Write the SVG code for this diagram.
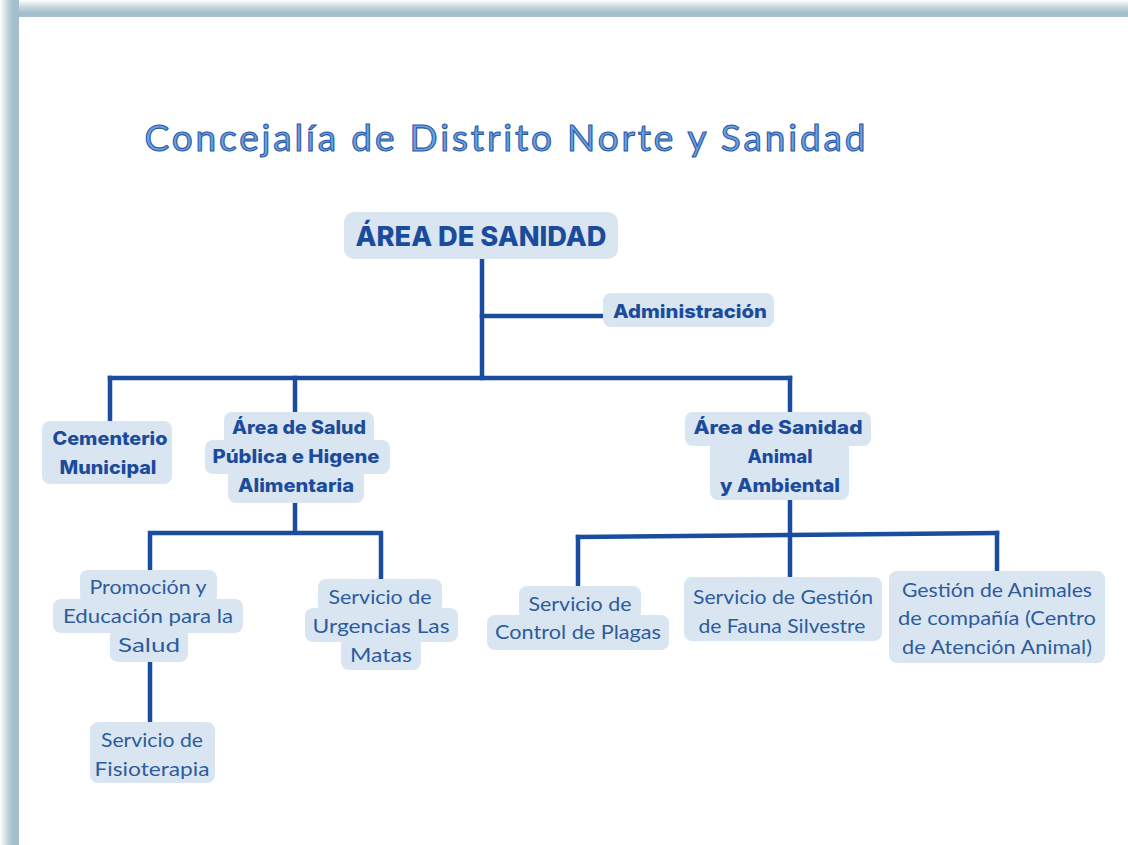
<svg xmlns="http://www.w3.org/2000/svg" width="1128" height="845" viewBox="0 0 1128 845">
<defs>
<linearGradient id="gl" x1="0" y1="0" x2="1" y2="0">
<stop offset="0" stop-color="#ffffff"/>
<stop offset="0.35" stop-color="#c9d9e0"/>
<stop offset="0.7" stop-color="#a4bfcb"/>
<stop offset="1" stop-color="#a4bfcb"/>
</linearGradient>
<linearGradient id="gt" x1="0" y1="0" x2="0" y2="1">
<stop offset="0" stop-color="#ffffff"/>
<stop offset="0.35" stop-color="#cfdde3"/>
<stop offset="0.75" stop-color="#a4bfcb"/>
<stop offset="1" stop-color="#a4bfcb"/>
</linearGradient>
<style>
.bx{fill:#dae5f2}
.b{font-family:Inter,"Open Sans","Liberation Sans",sans-serif;font-weight:800;fill:#1b4c9b;text-anchor:middle;font-size:18.5px}
.big{font-size:27.5px}
.r{font-family:Lato,"Liberation Sans",sans-serif;font-weight:400;fill:#2d5c9d;text-anchor:middle;font-size:20px}
.ln{stroke:#1a4d9f;stroke-width:4.5;fill:none;stroke-linecap:square}
</style>
</defs>
<rect width="1128" height="845" fill="#ffffff"/>
<rect x="0" y="0" width="1128" height="17" fill="url(#gt)"/>
<rect x="0" y="0" width="19" height="845" fill="url(#gl)"/>
<rect x="19" y="17" width="1109" height="828" fill="#ffffff"/>

<text x="505" y="151" font-family="Lato,'Liberation Sans',sans-serif" font-size="37" fill="#6ba2e6" stroke="#2a58a3" stroke-width="1.1" text-anchor="middle" textLength="721" lengthAdjust="spacing">Concejalía de Distrito Norte y Sanidad</text>

<g id="connectors">
<path class="ln" d="M482 258 V378"/>
<path class="ln" d="M482 316 H603"/>
<path class="ln" d="M110 378 H790"/>
<path class="ln" d="M110 378 V421"/>
<path class="ln" d="M295 378 V412"/>
<path class="ln" d="M790 378 V412"/>
<path class="ln" d="M295 503 V533 M150 533 H381 M150 533 V570 M381 533 V579"/>
<path class="ln" d="M150 662 V722"/>
<path class="ln" d="M790 500 V577"/>
<path class="ln" d="M578 537 L997 533"/>
<path class="ln" d="M578 537 V586"/>
<path class="ln" d="M997 533 V571"/>
</g>

<g id="n-area-sanidad">
<rect class="bx" x="344" y="212" width="274" height="47" rx="10"/>
<text class="b big" x="481" y="246" textLength="251" lengthAdjust="spacingAndGlyphs">ÁREA DE SANIDAD</text>
</g>
<g id="n-administracion">
<rect class="bx" x="603" y="293" width="171" height="34" rx="8"/>
<text class="b" x="690" y="318" textLength="154" lengthAdjust="spacingAndGlyphs">Administración</text>
</g>
<g id="n-cementerio">
<rect class="bx" x="42" y="421" width="130" height="63" rx="8"/>
<text class="b" x="110" y="445" textLength="115" lengthAdjust="spacingAndGlyphs">Cementerio</text>
<text class="b" x="108" y="474" textLength="97" lengthAdjust="spacingAndGlyphs">Municipal</text>
</g>
<g id="n-salud-publica">
<rect class="bx" x="224" y="412" width="150" height="34" rx="8"/>
<rect class="bx" x="205" y="440" width="185" height="34" rx="8"/>
<rect class="bx" x="228" y="468" width="136" height="35" rx="8"/>
<text class="b" x="299" y="434" textLength="134" lengthAdjust="spacingAndGlyphs">Área de Salud</text>
<text class="b" x="296" y="463" textLength="167" lengthAdjust="spacingAndGlyphs">Pública e Higene</text>
<text class="b" x="296" y="492" textLength="116" lengthAdjust="spacingAndGlyphs">Alimentaria</text>
</g>
<g id="n-sanidad-animal">
<rect class="bx" x="685" y="412" width="186" height="34" rx="8"/>
<rect class="bx" x="710" y="440" width="139" height="60" rx="8"/>
<text class="b" x="778" y="434" textLength="169" lengthAdjust="spacingAndGlyphs">Área de Sanidad</text>
<text class="b" x="780" y="463" textLength="65" lengthAdjust="spacingAndGlyphs">Animal</text>
<text class="b" x="780" y="492" textLength="120" lengthAdjust="spacingAndGlyphs">y Ambiental</text>
</g>
<g id="n-promocion">
<rect class="bx" x="80" y="570" width="137" height="34" rx="8"/>
<rect class="bx" x="53" y="599" width="190" height="34" rx="8"/>
<rect class="bx" x="110" y="628" width="78" height="34" rx="8"/>
<text class="r" x="148" y="594" textLength="117" lengthAdjust="spacingAndGlyphs">Promoción y</text>
<text class="r" x="148" y="623" textLength="170" lengthAdjust="spacingAndGlyphs">Educación para la</text>
<text class="r" x="149" y="652" textLength="62" lengthAdjust="spacingAndGlyphs">Salud</text>
</g>
<g id="n-fisioterapia">
<rect class="bx" x="90" y="722" width="125" height="61" rx="8"/>
<text class="r" x="152" y="747" textLength="102" lengthAdjust="spacingAndGlyphs">Servicio de</text>
<text class="r" x="152" y="776" textLength="115" lengthAdjust="spacingAndGlyphs">Fisioterapia</text>
</g>
<g id="n-urgencias">
<rect class="bx" x="318" y="579" width="124" height="34" rx="8"/>
<rect class="bx" x="305" y="608" width="153" height="34" rx="8"/>
<rect class="bx" x="341" y="637" width="80" height="33" rx="8"/>
<text class="r" x="380" y="604" textLength="103" lengthAdjust="spacingAndGlyphs">Servicio de</text>
<text class="r" x="381" y="633" textLength="137" lengthAdjust="spacingAndGlyphs">Urgencias Las</text>
<text class="r" x="381" y="662" textLength="62" lengthAdjust="spacingAndGlyphs">Matas</text>
</g>
<g id="n-plagas">
<rect class="bx" x="519" y="586" width="122" height="34" rx="8"/>
<rect class="bx" x="487" y="615" width="182" height="35" rx="8"/>
<text class="r" x="580" y="611" textLength="103" lengthAdjust="spacingAndGlyphs">Servicio de</text>
<text class="r" x="578" y="639" textLength="166" lengthAdjust="spacingAndGlyphs">Control de Plagas</text>
</g>
<g id="n-fauna">
<rect class="bx" x="684" y="577" width="198" height="64" rx="8"/>
<text class="r" x="783" y="604" textLength="180" lengthAdjust="spacingAndGlyphs">Servicio de Gestión</text>
<text class="r" x="782" y="633" textLength="167" lengthAdjust="spacingAndGlyphs">de Fauna Silvestre</text>
</g>
<g id="n-animales">
<rect class="bx" x="889" y="571" width="216" height="92" rx="8"/>
<text class="r" x="997" y="597" textLength="190" lengthAdjust="spacingAndGlyphs">Gestión de Animales</text>
<text class="r" x="997" y="625" textLength="198" lengthAdjust="spacingAndGlyphs">de compañía (Centro</text>
<text class="r" x="997" y="654" textLength="190" lengthAdjust="spacingAndGlyphs">de Atención Animal)</text>
</g>
</svg>
